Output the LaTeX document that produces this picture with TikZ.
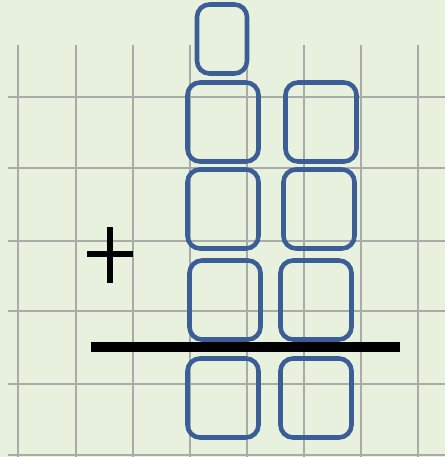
\documentclass[tikz,border=0pt]{standalone}
\usepackage{xcolor}
\usepackage{tikz}
\usetikzlibrary{positioning}

\definecolor{paper}{HTML}{E8F0DE}
\definecolor{gridline}{HTML}{A8ABA8}
\definecolor{tileblue}{HTML}{3A5E95}

\begin{document}
\begin{tikzpicture}[
  x=0.02cm, y=-0.02cm,
  tile/.style={draw=tileblue,line width=2.6pt,rounded corners=0.25cm,minimum width=1.42cm,minimum height=1.58cm,inner sep=0pt},
  tiletop/.style={tile,minimum width=1.0cm,minimum height=1.38cm},
  grd/.style={draw=gridline,line width=0.7pt},
]
  % paper
  \fill[paper] (0,0) rectangle (445,457);
  \useasboundingbox (0,0) rectangle (445,457);

  % grid
  \foreach \gx in {18,76,133,190,247,304,361,418}
    \draw[grd] (\gx,45) -- (\gx,457);
  \foreach \gy in {97,168,241,311,384,455}
    \draw[grd] (8,\gy) -- (445,\gy);

  % tiles, left column
  \node[tiletop] (t0) at (222,39)  {};
  \node[tile]    (l1) at (223,122) {};
  \node[tile]    (l2) at (223,209) {};
  \node[tile]    (l3) at (225,300) {};
  \node[tile]    (l4) at (223,398) {};

  % tiles, right column
  \node[tile]    (r1) at (321,122) {};
  \node[tile]    (r2) at (319,209) {};
  \node[tile]    (r3) at (316,300) {};
  \node[tile]    (r4) at (316,398) {};

  % plus sign and sum bar
  \draw[line width=3.4pt] (87,254) -- (133,254);
  \draw[line width=3.4pt] (110,227) -- (110,283);
  \draw[line width=6.2pt] (91,347) -- (400,347);
\end{tikzpicture}
\end{document}
